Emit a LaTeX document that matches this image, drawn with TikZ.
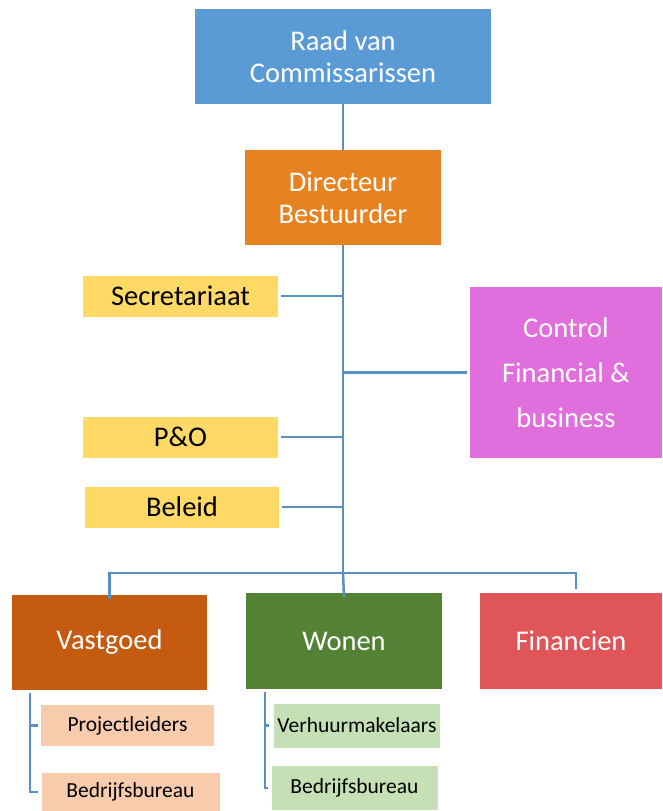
\documentclass[tikz,border=0pt]{standalone}
\usepackage{fontspec}
\setmainfont{Carlito}
\usetikzlibrary{positioning}
\definecolor{linkblue}{HTML}{5A8EC6}
\definecolor{raadblue}{HTML}{5B9BD5}
\definecolor{dirorange}{HTML}{E6821F}
\definecolor{staffyellow}{HTML}{FFD966}
\definecolor{ctrlpink}{HTML}{E06FDD}
\definecolor{vastorange}{HTML}{C55A11}
\definecolor{wonengreen}{HTML}{548235}
\definecolor{finred}{HTML}{E05558}
\definecolor{vastlight}{HTML}{F8CBAD}
\definecolor{wonenlight}{HTML}{C5E0B4}
\tikzset{
  box/.style={inner sep=0pt, align=center, font=\fontsize{28.5}{32}\selectfont},
  unit/.style={box, text=white, minimum height=95pt},
  staff/.style={box, fill=staffyellow, minimum width=195pt, minimum height=41pt},
  team/.style={box, font=\fontsize{21.5}{25}\selectfont, minimum height=41pt},
  link/.style={draw=linkblue, line width=2.5pt},
}
\begin{document}
\begin{tikzpicture}[x=1pt, y=-1pt]
    \useasboundingbox (0,0) rectangle (662,811);

    % top of the tree
    \node[unit, fill=raadblue, minimum width=296pt] (raad) at (343,56.5) {Raad van\\Commissarissen};
    \node[unit, fill=dirorange, minimum width=196pt] (dir) at (343,197.5) {Directeur\\Bestuurder};

    % staff
    \node[staff] (sec) at (180.5,296) {Secretariaat};
    \node[staff] (po) at (180.5,437) {P\&O};
    \node[staff, minimum width=194pt] (beleid) at (182,507) {Beleid};
    \node[unit, fill=ctrlpink, minimum width=192pt, minimum height=171pt,
      font=\fontsize{28.5}{45}\selectfont] (ctrl) at (566,372.5) {Control\\Financial \&\\business};

    % departments
    \node[unit, fill=vastorange, minimum width=195pt] (vast) at (109.5,642.5) {Vastgoed};
    \node[unit, fill=wonengreen, minimum width=196pt, minimum height=96pt] (wonen) at (344,641) {Wonen};
    \node[unit, fill=finred, minimum width=182pt, minimum height=96pt] (fin) at (571,641) {Financien};

    % teams
    \node[team, fill=vastlight, minimum width=173pt] (proj) at (127.5,725.5) {Projectleiders};
    \node[team, fill=vastlight, minimum width=178pt, minimum height=38pt] (bb1) at (130.5,792) {Bedrijfsbureau};
    \node[team, fill=wonenlight, minimum width=166pt, minimum height=44pt] (verh) at (357,725.5) {Verhuurmakelaars};
    \node[team, fill=wonenlight, minimum width=166pt, minimum height=44pt] (bb2) at (354.5,788) {Bedrijfsbureau};

    \coordinate (bus) at (343,573);
    \coordinate (fintop) at (576,589);

    % connectors
    \draw[link] (raad) -- (dir);
    \draw[link] (dir.south) -- (bus);
    \draw[link, shorten <=3pt] (sec.east) -- (sec.east -| dir.south);
    \draw[link, shorten <=3pt] (po.east) -- (po.east -| dir.south);
    \draw[link, shorten <=3pt] (beleid.east) -- (beleid.east -| dir.south);
    \draw[link, shorten <=3pt] (ctrl.west) -- (ctrl.west -| dir.south);
    \draw[link] ([yshift=-4pt]vast.north) |- (bus) -| (fintop);
    \draw[link] (bus) -- ([yshift=-4pt]wonen.north);

    \draw[link] ([xshift=18pt, yshift=-3pt]vast.south west) |- ([xshift=-3pt]bb1.west);
    \draw[link] ([xshift=18pt]vast.south west |- proj.west) -- ([xshift=-3pt]proj.west);
    \draw[link] ([xshift=19pt, yshift=-3pt]wonen.south west) |- ([xshift=-3pt]bb2.west);
    \draw[link] ([xshift=19pt]wonen.south west |- verh.west) -- ([xshift=-5pt]verh.west);
\end{tikzpicture}
\end{document}
